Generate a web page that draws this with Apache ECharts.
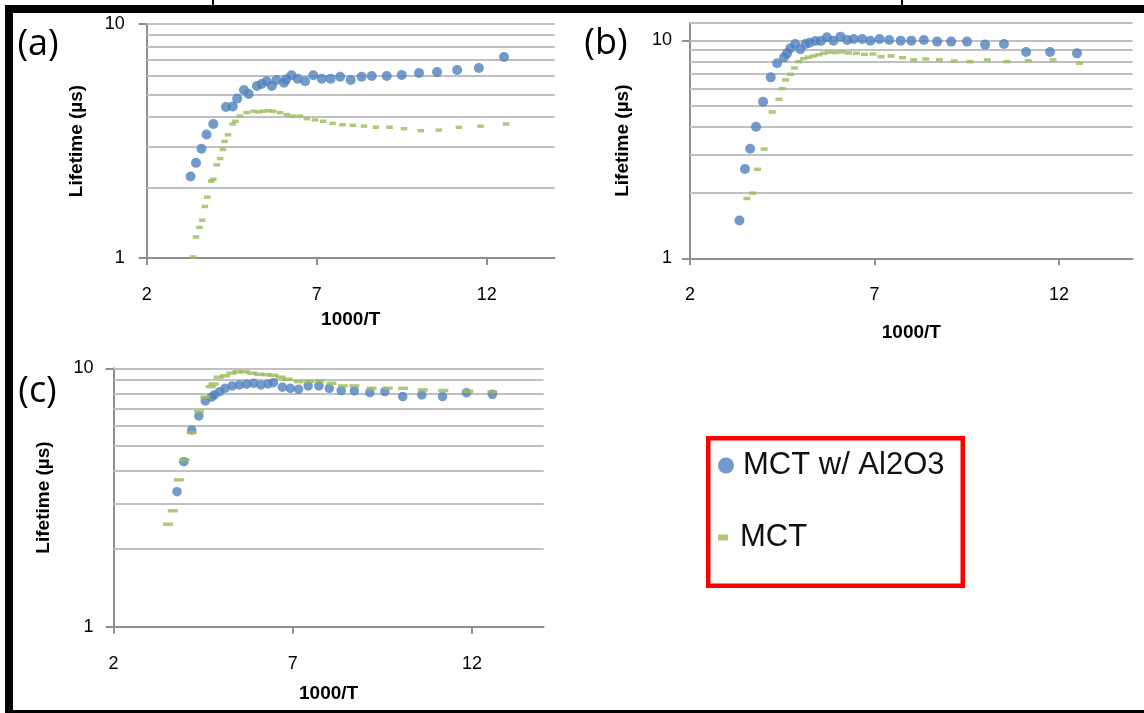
<!DOCTYPE html>
<html><head><meta charset="utf-8">
<script src="https://cdn.jsdelivr.net/npm/echarts@6/dist/echarts.min.js"></script>
<style>html,body{margin:0;padding:0;background:#fff}#c{width:1144px;height:713px}</style>
</head><body><div id="c"></div><script>
// ---------- data ----------
const seriesNames = ['MCT w/ Al2O3', 'MCT'];
const panelLabels = ['(a)', '(b)', '(c)'];
const xTicks = [2, 7, 12];
const xAxisTitle = '1000/T';
const yAxisTitle = 'Lifetime (µs)';
const gridValuesAC = [2, 3, 4, 5, 6, 7, 8, 9, 10];
const gridValuesB = [2, 3, 4, 5, 6, 7, 8, 9, 10, 12];

// panel (a)
const aAlX = [3.29,3.45,3.61,3.76,3.96,4.33,4.53,4.66,4.86,5.00,5.24,5.38,5.53,5.68,5.82,6.04,6.10,6.26,6.44,6.66,6.90,7.15,7.41,7.69,8.00,8.32,8.62,9.06,9.50,10.01,10.54,11.13,11.77,12.51];
const aAlY = [2.23,2.55,2.93,3.37,3.74,4.42,4.44,4.80,5.22,5.02,5.43,5.54,5.69,5.43,5.76,5.61,5.80,6.04,5.84,5.69,6.04,5.84,5.84,5.95,5.76,5.95,5.99,5.99,6.05,6.17,6.23,6.36,6.49,7.23];
const aMctX = [3.37,3.45,3.55,3.63,3.71,3.78,3.90,3.96,4.06,4.16,4.24,4.29,4.39,4.53,4.61,4.74,4.94,5.14,5.29,5.43,5.58,5.72,5.92,6.12,6.31,6.51,6.71,6.95,7.19,7.47,7.76,8.06,8.39,8.74,9.14,9.57,10.06,10.59,11.18,11.82,12.57];
const aMctY = [1.01,1.23,1.35,1.45,1.66,1.82,2.13,2.17,2.50,2.66,2.91,3.15,3.36,3.74,3.84,4.04,4.18,4.24,4.21,4.24,4.26,4.24,4.18,4.10,4.04,4.04,3.94,3.89,3.84,3.76,3.71,3.69,3.66,3.62,3.62,3.57,3.50,3.52,3.62,3.66,3.74];

// panel (b)
const bAlX = [3.34,3.49,3.63,3.79,3.98,4.19,4.36,4.55,4.63,4.72,4.85,4.99,5.13,5.24,5.40,5.55,5.71,5.89,6.08,6.26,6.44,6.67,6.89,7.14,7.40,7.71,8.00,8.34,8.70,9.08,9.51,10.00,10.51,11.11,11.76,12.49];
const bAlY = [1.49,2.57,3.18,4.01,5.23,6.76,7.84,8.35,8.71,9.19,9.62,9.10,9.62,9.75,9.93,9.93,10.32,9.96,10.39,10.03,10.14,10.14,9.96,10.14,10.03,9.96,9.96,10.03,9.86,9.86,9.86,9.55,9.62,8.84,8.84,8.71];
const bMctX = [3.54,3.70,3.83,4.01,4.23,4.41,4.50,4.59,4.72,4.83,4.95,5.08,5.21,5.35,5.49,5.62,5.76,5.94,6.12,6.30,6.51,6.73,6.96,7.18,7.45,7.76,8.06,8.39,8.76,9.16,9.59,10.06,10.59,11.17,11.84,12.56];
const bMctY = [1.88,1.99,2.56,3.17,4.69,5.36,6.00,6.58,6.98,7.46,7.98,8.24,8.36,8.47,8.59,8.71,8.81,8.78,8.84,8.74,8.71,8.62,8.65,8.41,8.47,8.32,8.13,8.21,8.13,8.04,7.98,8.13,7.98,8.06,8.13,7.84];

// panel (c)
const cAlX = [3.77,3.96,4.18,4.38,4.56,4.73,4.81,4.96,5.11,5.31,5.51,5.71,5.91,6.11,6.31,6.46,6.71,6.93,7.16,7.43,7.73,8.02,8.35,8.72,9.15,9.57,10.07,10.60,11.18,11.85,12.57];
const cAlY = [3.33,4.35,5.77,6.54,7.48,7.73,7.89,8.12,8.37,8.55,8.62,8.68,8.75,8.62,8.70,8.80,8.45,8.37,8.30,8.55,8.55,8.37,8.20,8.17,8.05,8.12,7.77,7.89,7.77,8.05,7.93];
const cMctX = [3.52,3.65,3.82,3.98,4.18,4.38,4.56,4.71,4.79,4.93,5.11,5.29,5.46,5.66,5.86,6.06,6.26,6.46,6.66,6.86,7.16,7.46,7.75,8.08,8.40,8.72,9.20,9.65,10.08,10.63,11.20,11.90,12.57];
const cMctY = [2.49,2.81,3.70,4.42,5.64,6.80,7.73,8.49,8.70,9.24,9.35,9.58,9.69,9.69,9.58,9.48,9.45,9.40,9.24,9.07,8.88,8.88,8.94,8.75,8.55,8.55,8.37,8.37,8.37,8.25,8.20,8.15,8.10];

// ---------- build ----------
const zip = (xs, ys) => xs.map((x, i) => [x, ys[i]]);
const FONT = '"Liberation Sans", Arial, sans-serif';
const BLUE = '#4F81BD', GREEN = '#9BBB59';
const AXIS_C = '#8E8E8E', GRID_C = '#C0C0C0';

const panels = [
  { grid: {left: 146.7, top: 24, width: 408, height: 234}, yMax: 10, gridVals: gridValuesAC,
    al: zip(aAlX, aAlY), mct: zip(aMctX, aMctY), blueSize: 10, greenSize: [6.5, 3.5],
    yLabelMargin: 22, xNameGap: 52, yNameGap: 60 },
  { grid: {left: 690, top: 23, width: 442.7, height: 235.3}, yMax: 12, gridVals: gridValuesB,
    al: zip(bAlX, bAlY), mct: zip(bMctX, bMctY), blueSize: 10, greenSize: [7, 3.5],
    yLabelMargin: 18, xNameGap: 65, yNameGap: 58 },
  { grid: {left: 113.6, top: 368.3, width: 430, height: 258.4}, yMax: 10, gridVals: gridValuesAC,
    al: zip(cAlX, cAlY), mct: zip(cMctX, cMctY), blueSize: 9.5, greenSize: [10, 3.5],
    yLabelMargin: 20, xNameGap: 58, yNameGap: 60 }
];

const grids = [], xAxes = [], yAxes = [], series = [];
panels.forEach((p, i) => {
  grids.push(Object.assign({outerBoundsMode: 'none', containLabel: false}, p.grid));
  xAxes.push({
    gridIndex: i, type: 'value', min: 2, max: 14,
    axisLine: {show: true, onZero: false, lineStyle: {color: AXIS_C, width: 2}},
    axisTick: {show: true, length: 7, customValues: xTicks, lineStyle: {color: AXIS_C, width: 2}},
    axisLabel: {customValues: xTicks, margin: 28, fontSize: 18, color: '#000', fontFamily: FONT},
    splitLine: {show: false},
    name: xAxisTitle, nameLocation: 'middle', nameGap: p.xNameGap,
    nameTextStyle: {fontSize: 19, fontWeight: 'bold', color: '#000', fontFamily: FONT}
  });
  yAxes.push({
    gridIndex: i, type: 'log', logBase: 10, min: 1, max: p.yMax,
    axisLine: {show: true, onZero: false, lineStyle: {color: AXIS_C, width: 2}},
    axisTick: {show: true, length: 8, lineStyle: {color: AXIS_C, width: 2}},
    axisLabel: {margin: p.yLabelMargin, fontSize: 18, color: '#000', fontFamily: FONT,
      showMaxLabel: p.yMax === 10, formatter: v => String(Math.round(v))},
    splitLine: {show: false},
    name: yAxisTitle, nameLocation: 'middle', nameGap: p.yNameGap,
    nameTextStyle: {fontSize: 19, fontWeight: 'bold', color: '#000', fontFamily: FONT}
  });
  series.push({
    type: 'scatter', name: seriesNames[0], xAxisIndex: i, yAxisIndex: i,
    data: p.al, symbol: 'circle', symbolSize: p.blueSize, z: 3,
    itemStyle: {color: BLUE}, silent: true,
    markLine: {
      silent: true, symbol: 'none', z: 1, animation: false,
      label: {show: false},
      lineStyle: {color: GRID_C, width: 2, type: 'solid'},
      data: p.gridVals.map(v => ({yAxis: v}))
    }
  });
  series.push({
    type: 'scatter', name: seriesNames[1], xAxisIndex: i, yAxisIndex: i,
    data: p.mct, symbol: 'rect', symbolSize: p.greenSize, z: 4,
    itemStyle: {color: GREEN}, silent: true
  });
});

const graphics = [
  // black frame
  {type: 'rect', shape: {x: 5, y: 5, width: 8, height: 708}, style: {fill: '#000'}},
  {type: 'rect', shape: {x: 5, y: 5, width: 1139, height: 8}, style: {fill: '#000'}},
  {type: 'rect', shape: {x: 5, y: 710, width: 1139, height: 3}, style: {fill: '#000'}},
  {type: 'rect', shape: {x: 212, y: 0, width: 2, height: 5}, style: {fill: '#000'}},
  {type: 'rect', shape: {x: 901, y: 0, width: 2, height: 5}, style: {fill: '#000'}},
  // legend box
  {type: 'rect', shape: {x: 708.25, y: 438.25, width: 254.5, height: 147.5},
   style: {fill: 'none', stroke: '#FF0000', lineWidth: 4.5}},
];
const labelPos = [[38, 45], [606, 44], [37.5, 392]];
panelLabels.forEach((t, i) => graphics.push({
  type: 'text', x: labelPos[i][0], y: labelPos[i][1],
  style: {text: t, fill: '#000', font: '36px "Open Sans", sans-serif', align: 'center', verticalAlign: 'middle'}
}));

const chart = echarts.init(document.getElementById('c'), null, {renderer: 'canvas'});
chart.setOption({
  animation: false,
  backgroundColor: '#fff',
  grid: grids, xAxis: xAxes, yAxis: yAxes, series: series,
  legend: [
    {data: [seriesNames[0]], left: 718, top: 450, orient: 'vertical', padding: 0,
     itemWidth: 24, itemHeight: 16, icon: 'circle', symbolKeepAspect: true, selectedMode: false,
     textStyle: {fontSize: 31, color: '#111', fontFamily: FONT}},
    {data: [seriesNames[1]], left: 718, top: 522, orient: 'vertical', padding: 0,
     itemWidth: 24, itemHeight: 6, icon: 'path://M0,0h10v6h-10z', symbolKeepAspect: true, selectedMode: false,
     textStyle: {fontSize: 31, color: '#111', fontFamily: FONT}}
  ],
  graphic: graphics
});
</script></body></html>
